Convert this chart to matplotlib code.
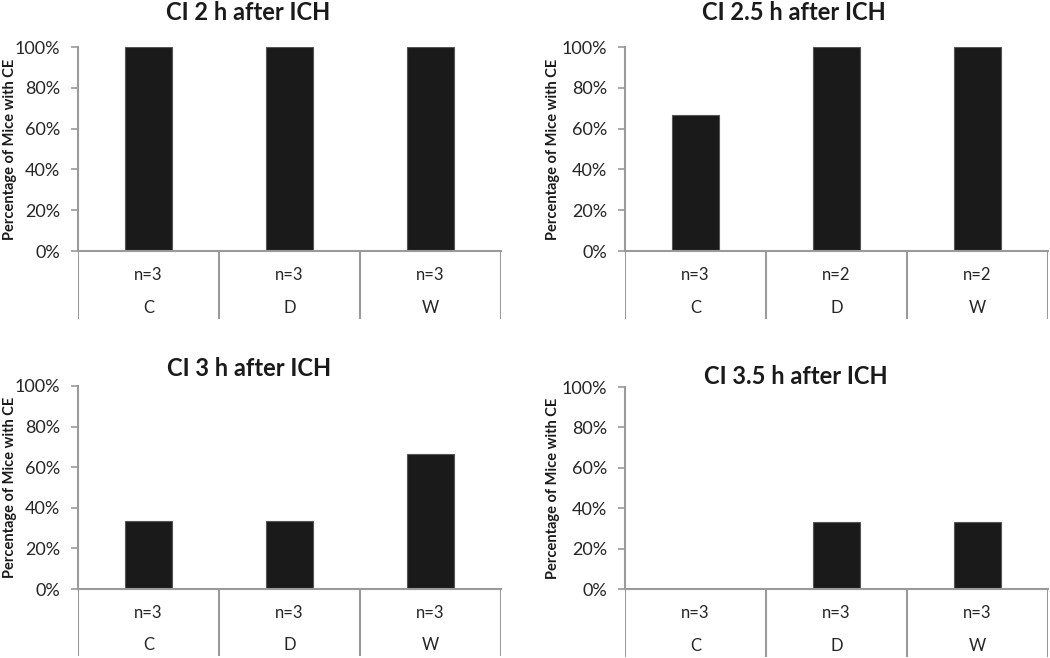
import matplotlib.pyplot as plt
from matplotlib.ticker import PercentFormatter

plt.rcParams["font.family"] = ["Lato", "DejaVu Sans"]

W, H = 1050, 658

# data
titles = ["CI 2 h after ICH", "CI 2.5 h after ICH", "CI 3 h after ICH", "CI 3.5 h after ICH"]
groups = ["C", "D", "W"]
pct_ce = [
    [100, 100, 100],
    [66.7, 100, 100],
    [33.3, 33.3, 66.7],
    [0, 33.3, 33.3],
]
n_mice = [
    [3, 3, 3],
    [3, 2, 2],
    [3, 3, 3],
    [3, 3, 3],
]

# panel layout in pixels: (x0, x1, y_top, y_zero, y_table_bottom)
panels = [
    (78, 501, 47, 251, 319),
    (625, 1048, 47, 251, 319),
    (78, 501, 386, 589, 656),
    (625, 1048, 387, 589, 657),
]
title_pos = [(248, 13), (794, 13), (249, 369), (796, 377)]
ylabel_x = [10, 553, 10, 553]

grey = "#9a9a9a"


def fig_rect(x0, x1, ytop, ybot):
    return [x0 / W, 1 - ybot / H, (x1 - x0) / W, (ybot - ytop) / H]


fig = plt.figure(figsize=(W / 100, H / 100), dpi=100)

for i, (x0, x1, ytop, yzero, ytab) in enumerate(panels):
    ax = fig.add_axes(fig_rect(x0, x1, ytop, yzero))
    pos = [k + 0.5 for k in range(len(groups))]
    ax.bar(pos, pct_ce[i], width=0.33, color="#1a1a1a", edgecolor="#555555", lw=0.8, zorder=2)
    ax.set_xlim(0, 3)
    ax.set_ylim(0, 100)
    ax.set_yticks([0, 20, 40, 60, 80, 100])
    ax.yaxis.set_major_formatter(PercentFormatter(decimals=0))
    ax.set_xticks([])
    for s in ["top", "right"]:
        ax.spines[s].set_visible(False)
    for s in ["left", "bottom"]:
        ax.spines[s].set_color(grey)
        ax.spines[s].set_linewidth(1.5)
        ax.spines[s].set_zorder(3)
    ax.tick_params(axis="y", length=5, width=1.2, color=grey, pad=8,
                   labelsize=13, labelcolor="#262626")

    # category table under the axis
    tab = fig.add_axes(fig_rect(x0, x1, yzero, ytab))
    tab.set_xlim(0, 3)
    tab.set_ylim(0, 1)
    tab.axis("off")
    for k in range(len(groups) + 1):
        tab.axvline(k, color=grey, lw=1.5)
    for k, (g, n) in enumerate(zip(groups, n_mice[i])):
        tab.text(k + 0.5, 0.64, f"n={n}", ha="center", va="center", fontsize=12, color="#262626")
        tab.text(k + 0.5, 0.16, g, ha="center", va="center", fontsize=12, color="#262626")

    tx, ty = title_pos[i]
    fig.text(tx / W, 1 - ty / H, titles[i], ha="center", va="center",
             fontsize=17, fontweight="bold", color="#1a1a1a")
    fig.text(ylabel_x[i] / W, 1 - (ytop + yzero) / 2 / H, "Percentage of Mice with CE",
             rotation=90, ha="center", va="center", fontsize=10.5, fontweight="bold",
             color="#1a1a1a")

fig.savefig("out.png", dpi=100)
